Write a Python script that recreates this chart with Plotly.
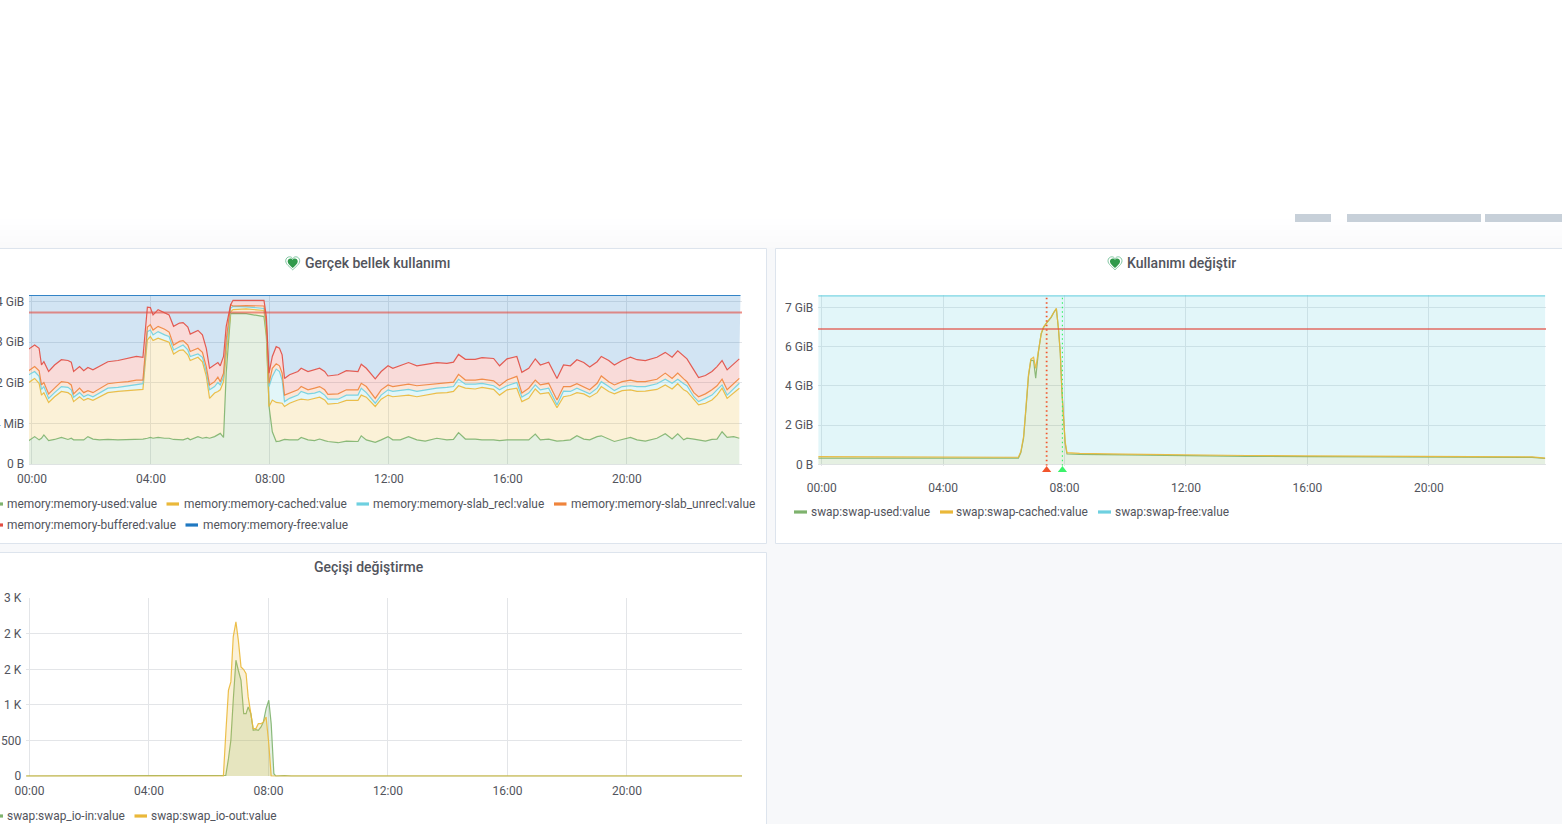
import plotly.graph_objects as go

# ---- data ----
# real memory panel, cumulative edges of the stacked areas (1 unit = 1e9 bytes)
mem_hours = [-0.11, 0.09, 0.24, 0.32, 0.40, 0.56, 0.76, 0.99, 1.21, 1.32, 1.40, 1.60, 1.74, 1.88, 2.05, 2.27, 2.55, 2.89,
             3.23, 3.51, 3.73, 3.88, 3.98, 4.07, 4.24, 4.46, 4.61, 4.76, 4.96, 5.08, 5.24, 5.32, 5.58, 5.73, 5.86, 5.97,
             6.14, 6.25, 6.33, 6.44, 6.53, 6.68, 6.76, 7.20, 7.80, 7.88, 7.97, 8.08, 8.21, 8.32, 8.41, 8.49, 8.66, 8.94,
             9.05, 9.28, 9.50, 9.67, 9.84, 9.95, 10.29, 10.57, 10.96, 11.07, 11.24, 11.54, 11.74, 11.97, 12.13,
             12.38, 12.66, 12.94, 13.22, 13.61, 13.95, 14.17, 14.34, 14.57, 14.90, 15.13, 15.52, 15.72, 15.97, 16.30,
             16.47, 16.70, 16.92, 17.09, 17.37, 17.65, 17.87, 18.10, 18.32, 18.55, 18.75, 19.00, 19.14, 19.39, 19.58,
             19.84, 20.12, 20.34, 20.62, 21.01, 21.29, 21.52, 21.71, 21.91, 22.02, 22.25, 22.41, 22.64, 22.86, 23.03,
             23.20, 23.37, 23.59, 23.78]
mem_used = [.58, .68, .60, .64, .72, .58, .61, .66, .61, .64, .60, .60, .60, .68, .62, .60, .61, .60, .61, .60, .62, .64,
            .66, .64, .66, .64, .64, .61, .61, .60, .64, .60, .68, .64, .66, .64, .68, .72, .76, .66, 2.24, 3.70, 3.71,
            3.70, 3.63, 3.14, 1.42, .80, .56, .57, .60, .61, .60, .60, .66, .60, .58, .62, .58, .56, .53, .57, .56, .70,
            .60, .54, .60, .68, .60,
            .60, .68, .60, .57, .64, .60, .61, .78, .62, .62, .60, .60, .58, .60, .60, .60, .60, .74, .60, .62, .57, .58,
            .60, .70, .62, .60, .68, .70, .61, .56, .61, .66, .60, .57, .64, .75, .62, .75, .60, .64, .62, .60, .57, .61,
            .62, .80, .66, .68, .64]
mem_cached = [2.01, 2.11, 1.99, 1.70, 1.76, 1.52, 1.66, 1.79, 1.76, 1.70, 1.54, 1.66, 1.57, 1.62, 1.57, 1.65, 1.76, 1.79,
              1.81, 1.84, 1.84, 3.06, 3.14, 3.04, 3.10, 3.04, 3.00, 2.71, 2.80, 2.81, 2.69, 2.55, 2.63, 2.52, 2.17, 1.62,
              1.75, 1.79, 1.83, 2.03, 2.73, 3.75, 3.80, 3.82, 3.78, 3.22, 1.42, 1.58, 1.52, 1.50, 1.50, 1.42, 1.50, 1.58,
              1.60, 1.58, 1.62, 1.65, 1.58, 1.48, 1.50, 1.57, 1.57, 1.70, 1.65, 1.42, 1.60, 1.70, 1.66,
              1.68, 1.70, 1.66, 1.69, 1.75, 1.76, 1.79, 1.93, 1.87, 1.85, 1.89, 1.84, 1.70, 1.83, 1.87, 1.54, 1.62, 1.85,
              1.73, 1.76, 1.39, 1.66, 1.69, 1.76, 1.73, 1.65, 1.76, 1.91, 1.79, 1.73, 1.81, 1.83, 1.79, 1.80, 1.84, 1.95,
              1.85, 1.98, 1.83, 1.79, 1.58, 1.46, 1.50, 1.58, 1.70, 1.87, 1.62, 1.76, 1.87]
mem_slab_recl = [2.20, 2.28, 2.16, 1.84, 1.91, 1.62, 1.76, 1.91, 1.89, 1.83, 1.65, 1.76, 1.66, 1.71, 1.66, 1.75, 1.87,
                 1.89, 1.93, 1.95, 1.98, 3.26, 3.30, 3.18, 3.26, 3.18, 3.14, 2.81, 2.89, 2.93, 2.81, 2.65, 2.71, 2.63,
                 2.28, 1.83, 1.91, 2.01, 1.95, 2.14, 2.89, 3.84, 3.88, 3.87, 3.83, 3.37, 1.91, 2.16, 2.34, 2.28, 2.07,
                 1.54, 1.62, 1.70, 1.79, 1.73, 1.75, 1.79, 1.70, 1.60, 1.60, 1.70, 1.70, 1.87, 1.76, 1.50, 1.70, 1.83, 1.79,
                 1.81, 1.84, 1.79, 1.83, 1.87, 1.89, 1.91, 2.09, 1.97, 1.97, 1.99, 1.93, 1.83, 1.93, 2.01, 1.65, 1.75,
                 1.95, 1.83, 1.87, 1.46, 1.80, 1.79, 1.87, 1.79, 1.73, 1.87, 2.03, 1.91, 1.81, 1.91, 1.93, 1.91, 1.91,
                 1.98, 2.09, 1.99, 2.09, 1.98, 1.93, 1.66, 1.54, 1.62, 1.70, 1.83, 1.95, 1.70, 1.85, 1.99]
mem_slab_unrecl = [2.30, 2.40, 2.30, 1.95, 2.01, 1.73, 1.87, 2.03, 2.01, 1.95, 1.73, 1.87, 1.76, 1.81, 1.76, 1.85, 1.98,
                   2.01, 2.03, 2.07, 2.07, 3.37, 3.43, 3.30, 3.39, 3.32, 3.25, 2.93, 3.02, 3.04, 2.93, 2.77, 2.85, 2.75,
                   2.40, 1.95, 2.03, 2.14, 2.03, 2.24, 3.06, 3.92, 3.89, 3.90, 3.89, 3.47, 1.99, 2.36, 2.47, 2.42, 2.24,
                   1.70, 1.75, 1.83, 1.91, 1.83, 1.87, 1.91, 1.83, 1.72, 1.73, 1.83, 1.83, 1.99, 1.91, 1.62, 1.83, 1.95, 1.91,
                   1.93, 1.97, 1.93, 1.95, 1.99, 2.01, 2.02, 2.21, 2.07, 2.07, 2.09, 2.05, 1.93, 2.07, 2.16, 1.75, 1.87,
                   2.07, 1.95, 1.99, 1.58, 1.91, 1.91, 1.98, 1.91, 1.83, 1.99, 2.17, 2.03, 1.95, 2.03, 2.07, 2.03, 2.03,
                   2.09, 2.24, 2.11, 2.24, 2.10, 2.03, 1.76, 1.66, 1.73, 1.83, 1.93, 2.09, 1.83, 1.98, 2.11]
mem_buffered = [2.83, 2.93, 2.85, 2.44, 2.52, 2.28, 2.44, 2.57, 2.55, 2.51, 2.28, 2.40, 2.30, 2.38, 2.32, 2.40, 2.52, 2.55,
                2.61, 2.65, 2.63, 3.86, 3.85, 3.67, 3.80, 3.73, 3.67, 3.39, 3.47, 3.48, 3.37, 3.20, 3.29, 3.18, 2.85, 2.36,
                2.44, 2.50, 2.42, 2.65, 3.39, 3.92, 4.03, 4.03, 4.03, 3.63, 2.24, 2.65, 2.89, 2.85, 2.69, 2.11, 2.20, 2.28,
                2.36, 2.28, 2.32, 2.36, 2.28, 2.17, 2.20, 2.30, 2.28, 2.46, 2.36, 2.10, 2.28, 2.42, 2.36,
                2.42, 2.50, 2.42, 2.46, 2.50, 2.48, 2.51, 2.70, 2.58, 2.58, 2.62, 2.60, 2.42, 2.59, 2.65, 2.26, 2.36, 2.59,
                2.44, 2.51, 2.11, 2.44, 2.42, 2.57, 2.50, 2.39, 2.52, 2.65, 2.55, 2.44, 2.55, 2.63, 2.57, 2.55, 2.63, 2.75,
                2.63, 2.79, 2.65, 2.59, 2.32, 2.13, 2.18, 2.28, 2.40, 2.55, 2.32, 2.47, 2.59]
mem_free_hours = [-0.11, 23.82]
mem_free = [4.15, 4.15]
mem_threshold = [3.73, 3.73]

# swap usage panel
swap_hours = [-0.11, 2.69, 5.66, 5.77, 6.48, 6.56, 6.65, 6.74, 6.81, 6.89, 6.98, 7.05, 7.14, 7.23, 7.31, 7.40, 7.47, 7.56,
              7.64, 7.73, 7.80, 7.86, 7.91, 7.97, 8.02, 8.08, 8.5, 10, 12, 14, 16, 18, 20, 22, 23, 23.4, 23.83]
swap_used = [.32, .32, .33, .32, .32, .60, 1.33, 3.03, 4.47, 5.32, 5.29, 4.39, 5.75, 6.65, 6.99, 7.19, 7.31, 7.50,
             7.74, 7.93, 6.89, 5.66, 3.79, 2.43, 1.07, .53, .51, .48, .43, .41, .39, .38, .38, .38, .38, .35, .30]
swap_cached = [.39, .38, .37, .37, .36, .65, 1.41, 3.15, 4.56, 5.37, 5.46, 4.90, 5.83, 6.68, 7.02, 7.23, 7.35, 7.53,
               7.77, 7.96, 6.94, 5.70, 3.83, 2.47, 1.16, .60, .56, .52, .47, .45, .43, .42, .42, .42, .42, .38, .32]
swap_free_hours = [-0.11, 23.83]
swap_free = [8.6, 8.6]
swap_threshold = [6.9, 6.9]
swap_marks = [7.41, 7.93]

# swap traffic panel
io_hours = [-0.11, 5.6, 5.73, 5.85, 6.4, 6.49, 6.57, 6.66, 6.74, 6.82, 6.91, 6.99, 7.08, 7.17, 7.25, 7.32, 7.41, 7.49, 7.58,
            7.66, 7.75, 7.83, 7.92, 8.01, 8.09, 8.18, 8.25, 8.53, 8.76, 12, 16, 20, 23.3, 23.55, 23.85]
io_in = [0, 0, 10, 0, 0, 0, 10, 244, 502, 1066, 1629, 1488, 1347, 878, 878, 972, 878, 643, 653,
         643, 690, 761, 948, 1066, 737, 33, 0, 5, 0, 0, 0, 0, 0, 6, 0]
io_out = [0, 0, 5, 0, 0, 0, 596, 1207, 1324, 1958, 2169, 1911, 1535, 1498, 1441, 1113, 878, 667, 667,
          737, 737, 761, 831, 455, 0, 0, 0, 0, 0, 0, 0, 0, 0, 4, 0]

time_vals = [0, 4, 8, 12, 16, 20]
time_text = ['00:00', '04:00', '08:00', '12:00', '16:00', '20:00']
mem_tick_vals = [0, 1, 2, 3, 4]
mem_tick_text = ['0 B', '954 MiB', '2 GiB', '3 GiB', '4 GiB']
swap_tick_vals = [0, 2, 4, 6, 8]
swap_tick_text = ['0 B', '2 GiB', '4 GiB', '6 GiB', '7 GiB']
io_tick_vals = [0, 500, 1000, 1500, 2000, 2500]
io_tick_text = ['0', '500', '1 K', '2 K', '2 K', '3 K']

# grafana classic colors
green = '#7EB26D'
yellow = '#EAB839'
cyan = '#6ED0E0'
orange = '#EF843C'
red = '#E24D42'
blue = '#1F78C1'
threshold_color = 'rgba(226,77,66,0.62)'
grid_color = '#e3e5e8'
text_color = '#52545c'
width, height = 1562, 824


def px(x):
    return x / width


def py(y):
    return 1 - y / height


def fill_color(color, alpha=0.2):
    r, g, b = int(color[1:3], 16), int(color[3:5], 16), int(color[5:7], 16)
    return f'rgba({r},{g},{b},{alpha})'


def rect(x0, y0, x1, y1, color, line=None):
    return dict(type='rect', xref='paper', yref='paper', layer='below', x0=px(x0), y0=py(y0), x1=px(x1), y1=py(y1),
                fillcolor=color, line=dict(color=line, width=1) if line else dict(width=0))


def heart(cx, cy, s, fill, line):
    def p(dx, dy):
        return f'{px(cx + dx * s)},{py(cy + dy * s)}'
    path = (f"M {p(0, 6.5)} C {p(-3, 3.5)} {p(-7, 1)} {p(-7, -2.5)} C {p(-7, -5)} {p(-5, -6.5)} {p(-3.2, -6.5)} "
            f"C {p(-1.8, -6.5)} {p(-0.6, -5.8)} {p(0, -4.5)} C {p(0.6, -5.8)} {p(1.8, -6.5)} {p(3.2, -6.5)} "
            f"C {p(5, -6.5)} {p(7, -5)} {p(7, -2.5)} C {p(7, 1)} {p(3, 3.5)} {p(0, 6.5)} Z")
    return dict(type='path', xref='paper', yref='paper', layer='above', path=path, fillcolor=fill,
                line=dict(color=line, width=1) if line else dict(width=0))


fig = go.Figure()


def add_area(x, y, color, axes, fill):
    fig.add_trace(go.Scatter(x=x, y=y, mode='lines', line=dict(color=fill_color(color, 0.9), width=1.2), fill=fill,
                             fillcolor=fill_color(color), xaxis=axes[0], yaxis=axes[1], showlegend=False))


# memory stack, lines are the edges of the stack
mem_axes = ('x', 'y')
add_area(mem_hours, mem_used, green, mem_axes, 'tozeroy')
add_area(mem_hours, mem_cached, yellow, mem_axes, 'tonexty')
add_area(mem_hours, mem_slab_recl, cyan, mem_axes, 'tonexty')
add_area(mem_hours, mem_slab_unrecl, orange, mem_axes, 'tonexty')
add_area(mem_hours, mem_buffered, red, mem_axes, 'tonexty')
add_area(mem_free_hours, mem_free, blue, mem_axes, 'tonexty')
fig.add_trace(go.Scatter(x=[-0.1, 23.87], y=mem_threshold, mode='lines', showlegend=False,
                         line=dict(color=threshold_color, width=2), xaxis='x', yaxis='y'))

# swap stack
swap_axes = ('x2', 'y2')
add_area(swap_hours, swap_used, green, swap_axes, 'tozeroy')
add_area(swap_hours, swap_cached, yellow, swap_axes, 'tonexty')
add_area(swap_free_hours, swap_free, cyan, swap_axes, 'tonexty')
fig.add_trace(go.Scatter(x=[-0.12, 23.86], y=swap_threshold, mode='lines', showlegend=False,
                         line=dict(color=threshold_color, width=2), xaxis='x2', yaxis='y2'))

# annotation marks on the swap panel, triangles sit on a thin strip below the axis
for mark, color, dash_width in zip(swap_marks, ['#F2552C', '#3CF26A'], [1.8, 1.2]):
    fig.add_trace(go.Scatter(x=[mark, mark], y=[-0.07, 8.64], mode='lines', showlegend=False,
                             line=dict(color=color, width=dash_width, dash='1.5px,3px'), xaxis='x2', yaxis='y2'))
    fig.add_trace(go.Scatter(x=[mark], y=[0.5], mode='markers', showlegend=False,
                             marker=dict(symbol='triangle-up', size=8, color=color, line=dict(width=0)),
                             xaxis='x4', yaxis='y4'))

# swap traffic, the two areas overlap
io_axes = ('x3', 'y3')
add_area(io_hours, io_in, green, io_axes, 'tozeroy')
add_area(io_hours, io_out, yellow, io_axes, 'tozeroy')

# page background and panels
shapes = [rect(0, 248, width, height, '#f7f8fa')]
for i in range(35):
    shade = 255 - i * 6 // 34
    shapes.append(rect(0, 213 + i, width, 214 + i, f'rgb({shade},{shade},{min(255, shade + 1)})'))
for x0, x1 in [(1295, 1331), (1347, 1481), (1485, 1570)]:
    shapes.append(rect(x0, 214, x1, 222, '#c7d0d9'))
panel_line = '#dde4ed'
shapes.append(rect(-5, 248.5, 766.5, 543.5, '#ffffff', panel_line))
shapes.append(rect(775.5, 248.5, 1570, 543.5, '#ffffff', panel_line))
shapes.append(rect(-5, 552.5, 766.5, 830, '#ffffff', panel_line))
for cx in [292.7, 1115]:
    shapes.append(heart(cx, 263.3, 1.0, '#ffffff', '#84c8a4'))
    shapes.append(heart(cx, 263.3, 0.72, '#2f9a4b', None))

# panel titles and legends
annotations = []


def label(x, y, text, size=11.9, weight=400, anchor='left'):
    annotations.append(dict(x=px(x), y=py(y), xref='paper', yref='paper', text=text, showarrow=False, xanchor=anchor,
                            yanchor='middle', font=dict(family='Roboto', size=size, color=text_color, weight=weight)))


label(377.5, 263, 'Gerçek bellek kullanımı', 14, 500, 'center')
label(1181.5, 263, 'Kullanımı değiştir', 14, 500, 'center')
label(368.5, 567, 'Geçişi değiştirme', 14, 500, 'center')

legend_items = [
    (-10, 3, 5, 504, 'memory:memory-used:value', green),
    (166.5, 179, 181.5, 504, 'memory:memory-cached:value', yellow),
    (356.5, 369, 371, 504, 'memory:memory-slab_recl:value', cyan),
    (554, 566.5, 569, 504, 'memory:memory-slab_unrecl:value', orange),
    (-10, 3, 5, 525, 'memory:memory-buffered:value', red),
    (185.5, 198, 200.5, 525, 'memory:memory-free:value', blue),
    (794, 807, 809, 512, 'swap:swap-used:value', green),
    (940, 953, 954.5, 512, 'swap:swap-cached:value', yellow),
    (1098, 1111, 1113, 512, 'swap:swap-free:value', cyan),
    (-10, 3, 5, 816, 'swap:swap_io-in:value', green),
    (134.5, 147, 149, 816, 'swap:swap_io-out:value', yellow),
]
for x0, x1, text_x, y, text, color in legend_items:
    shapes.append(rect(x0, y - 1.6, x1, y + 1.6, color))
    label(text_x, y, text)


def x_axis(left, right, first, last, anchor, ticklen):
    return dict(domain=[px(left), px(right)], range=[first, last], anchor=anchor, tickmode='array', tickvals=time_vals,
                ticktext=time_text, showgrid=True, gridcolor=grid_color, gridwidth=1, zeroline=False, showline=False,
                ticks='outside', ticklen=ticklen, tickcolor='rgba(0,0,0,0)', automargin=False,
                tickfont=dict(family='Roboto', size=12, color=text_color))


def y_axis(top, bottom, low, high, anchor, vals, text):
    return dict(domain=[py(bottom), py(top)], range=[low, high], anchor=anchor, tickmode='array', tickvals=vals,
                ticktext=text, showgrid=True, gridcolor=grid_color, gridwidth=1, zeroline=False, showline=False,
                ticks='outside', ticklen=1.3, tickcolor='rgba(0,0,0,0)', automargin=False,
                tickfont=dict(family='Roboto', size=12, color=text_color))


fig.update_layout(
    width=width, height=height, autosize=False, margin=dict(l=0, r=0, t=0, b=0, autoexpand=False),
    paper_bgcolor='#ffffff', plot_bgcolor='rgba(0,0,0,0)', hovermode=False, showlegend=False, shapes=shapes,
    annotations=annotations,
    xaxis=x_axis(29, 742, -0.10, 23.87, 'y', 2),
    yaxis=y_axis(295, 465.3, -0.025, 4.16, 'x', mem_tick_vals, mem_tick_text),
    xaxis2=x_axis(818, 1546, -0.122, 23.86, 'y2', 10.5),
    yaxis2=y_axis(295, 465.7, -0.07, 8.64, 'x2', swap_tick_vals, swap_tick_text),
    xaxis3=x_axis(26, 742, -0.117, 23.85, 'y3', 3),
    yaxis3=y_axis(598, 776.4, -5, 2504, 'x3', io_tick_vals, io_tick_text),
    # strip for the annotation triangles
    xaxis4=dict(domain=[px(818), px(1546)], range=[-0.122, 23.86], anchor='y4', visible=False),
    yaxis4=dict(domain=[py(474), py(466)], range=[0, 1], anchor='x4', visible=False),
)

# write plot to html, the page margin would shift everything by 8px
fig.write_html("out.html", config=dict(displayModeBar=False),
               post_script="document.body.style.margin='0';document.body.style.overflow='hidden';")
